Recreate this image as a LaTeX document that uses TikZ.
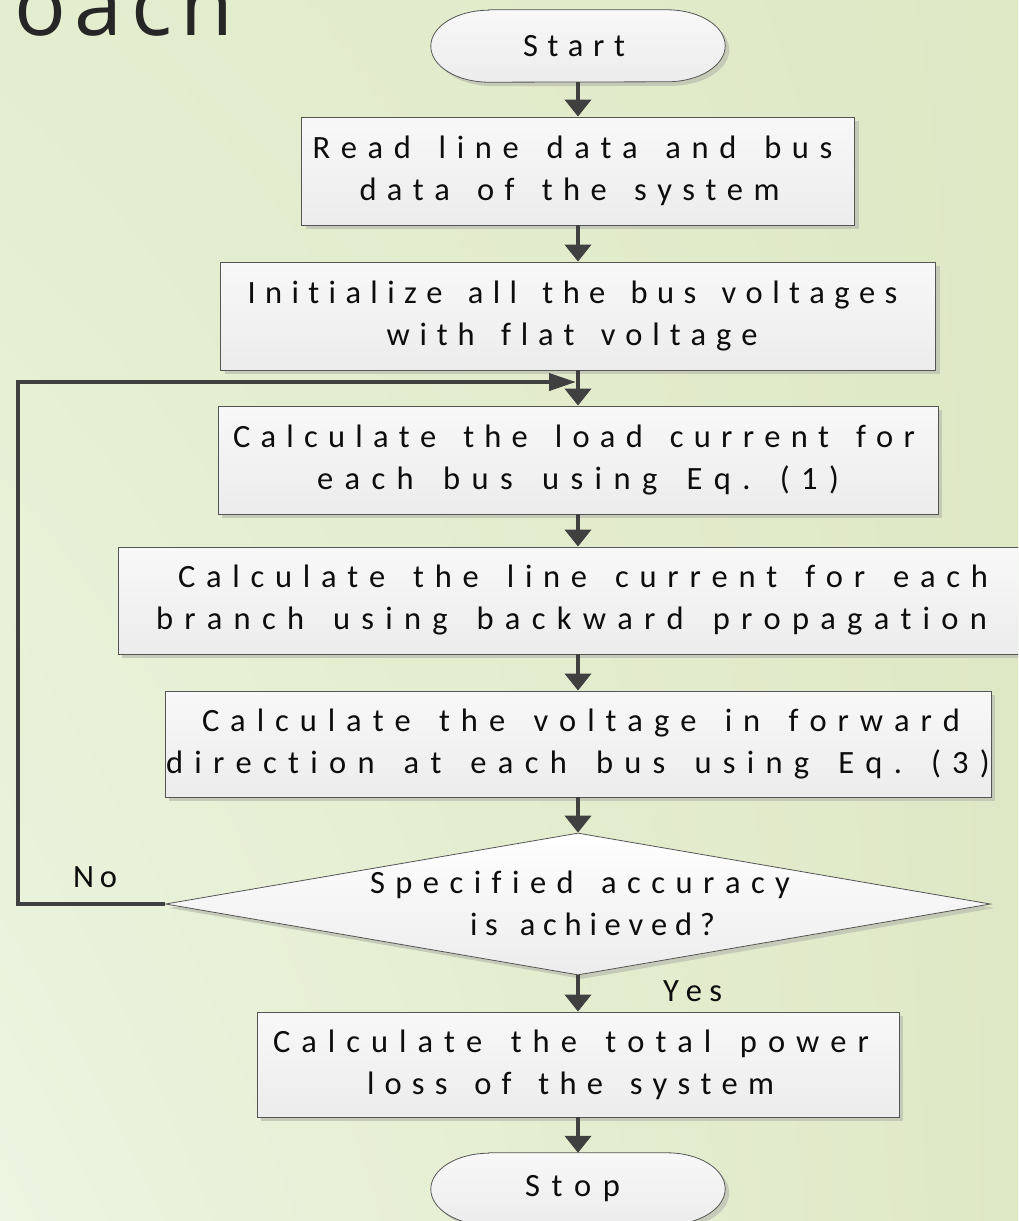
\documentclass[tikz,border=0pt]{standalone}
\usepackage{fontspec}
\setmainfont{Carlito}
\newfontfamily\titlefont[LetterSpace=10]{Open Sans}
\usetikzlibrary{arrows.meta,shapes.geometric,shadows,shadings,calc}

\definecolor{bgmain}{HTML}{DFE8C5}
\definecolor{bglight}{HTML}{EDF4E1}
\definecolor{bgmid}{HTML}{E4EDCF}
\definecolor{boxtop}{HTML}{F8F8F8}
\definecolor{boxbot}{HTML}{ECECEC}
\definecolor{boxline}{HTML}{555555}
\definecolor{shadowc}{HTML}{C3C7B6}
\definecolor{arrowc}{HTML}{404040}
\definecolor{ink}{HTML}{0D0D0D}
\definecolor{titleink}{HTML}{262626}

% one line of letter-spaced text: #1 = line width (pt), #2 = horizontal shift (pt), #3 = text
\ExplSyntaxOn
\bool_new:N \l__spread_first_bool
\cs_new_protected:Npn \spreadline #1 #2 #3
  {
    \hbox:n
      {
        \skip_horizontal:n { #2 pt }
        \hbox_to_wd:nn { #1 pt }
          {
            \bool_set_true:N \l__spread_first_bool
            \str_map_inline:nn { #3 }
              {
                \bool_if:NF \l__spread_first_bool { \hfil }
                \bool_set_false:N \l__spread_first_bool
                \str_if_eq:nnTF { ##1 } { ~ } { \skip_horizontal:n { .2em } } { ##1 }
              }
          }
        \skip_horizontal:n { -#2 pt }
      }
  }
\ExplSyntaxOff

% outline of a start/stop terminal around a named node
\newcommand\termoutline[1]{%
  \path[termshape] ($(#1.north west)+(58,0)$) -- ($(#1.north east)+(-58,0)$)
    arc[start angle=90, end angle=-90, x radius=58, y radius=36]
    -- ($(#1.south west)+(58,0)$)
    arc[start angle=270, end angle=90, x radius=58, y radius=36] -- cycle;}

\pgfdeclarelayer{canvas}
\pgfdeclarelayer{outline}
\pgfsetlayers{canvas,outline,main}

\begin{document}
\begin{tikzpicture}[x=1pt, y=1pt,
  softshadow/.style={drop shadow={shadow xshift=4pt, shadow yshift=-4pt, fill=shadowc, opacity=0.9}},
  bodytext/.style={font=\fontsize{32.5}{42}\selectfont, text=ink, inner sep=0pt, align=center},
  procbox/.style={bodytext, draw=boxline, line width=0.9pt, top color=boxtop, bottom color=boxbot, softshadow},
  terminal/.style={bodytext, minimum width=294pt, minimum height=72pt},
  termshape/.style={draw=boxline, line width=0.8pt, top color=boxtop, bottom color=boxbot, softshadow},
  decision/.style={diamond, draw=boxline, line width=0.8pt, top color=white, bottom color=boxbot, softshadow, inner sep=0pt},
  flowarrow/.style={draw=arrowc, line width=4pt, -{Triangle[width=26pt,length=17pt]}},
  looparrow/.style={draw=arrowc, line width=4pt, -{Triangle[width=17pt,length=27pt]}},
  lbl/.style={bodytext}
]
\useasboundingbox (0,0) rectangle (1018,-1221);

\begin{pgfonlayer}{canvas}
  \shade[upper left=bgmid, upper right=bgmain, lower left=bglight, lower right=bgmain]
    (0,0) rectangle (1018,-1221);
\end{pgfonlayer}

\clip (0,0) rectangle (1018,-1221);

% heading, partly outside the page
\node[anchor=base west, inner sep=0pt, text=titleink,
      font=\titlefont\fontsize{86}{86}\selectfont] (title) at (14,-35) {oach};

% flow steps
\node[terminal] (start) at (578,-46) {\spreadline{102}{-4}{Start}};

\node[procbox, minimum width=553pt, minimum height=108pt] (read) at (578,-171)
  {\spreadline{520}{-5.5}{Read line data and bus}\\
   \spreadline{420}{-8.5}{data of the system}};

\node[procbox, minimum width=715pt, minimum height=108pt] (init) at (578,-316)
  {\spreadline{650}{-5.5}{Initialize all the bus voltages}\\
   \spreadline{371}{-6}{with flat voltage}};

\node[procbox, minimum width=720pt, minimum height=108pt] (load) at (578,-460)
  {\spreadline{682}{-4}{Calculate the load current for}\\
   \spreadline{522}{0}{each bus using  Eq. (1)}};

\node[procbox, minimum width=920pt, minimum height=107pt] (back) at (578,-600.5)
  {\spreadline{810}{5}{Calculate the line current for each}\\
   \spreadline{831}{-6.5}{branch using backward propagation}};

\node[procbox, minimum width=826pt, minimum height=106pt] (fwd) at (578,-744)
  {\spreadline{758}{3}{Calculate the voltage in forward}\\
   \spreadline{824}{0}{direction at each bus using Eq. (3)}};

\node[decision, minimum width=825pt, minimum height=142pt] (dec) at (578,-904) {};
\node[lbl] (dectext) at (578,-903)
  {\spreadline{420}{2}{Specified accuracy}\\
   \spreadline{245}{14.5}{is achieved?}};

\node[procbox, minimum width=642pt, minimum height=105pt] (loss) at (578,-1064.5)
  {\spreadline{596}{-7}{Calculate the total power}\\
   \spreadline{407}{-7.5}{loss of the system}};

\node[terminal] (stop) at (578,-1189) {\spreadline{95}{-5.5}{Stop}};

\begin{pgfonlayer}{outline}
  \termoutline{start}
  \termoutline{stop}
\end{pgfonlayer}

% branch labels
\node[lbl] (no) at (95,-877.5) {\spreadline{44}{0}{No}};
\node[lbl] (yes) at (692.5,-991.5) {\spreadline{59}{0}{Yes}};

% connectors
\coordinate (merge) at (576,-382);
\draw[flowarrow] (start) -- (read);
\draw[flowarrow] (read) -- (init);
\draw[flowarrow] (init) -- (load);
\draw[flowarrow] (load) -- (back);
\draw[flowarrow] (back) -- (fwd);
\draw[flowarrow] (fwd) -- (dec);
\draw[flowarrow] (dec) -- (loss);
\draw[flowarrow] (loss) -- (stop);
\draw[looparrow] (dec.west) -- ++(-147,0) |- (merge);
\end{tikzpicture}
\end{document}
